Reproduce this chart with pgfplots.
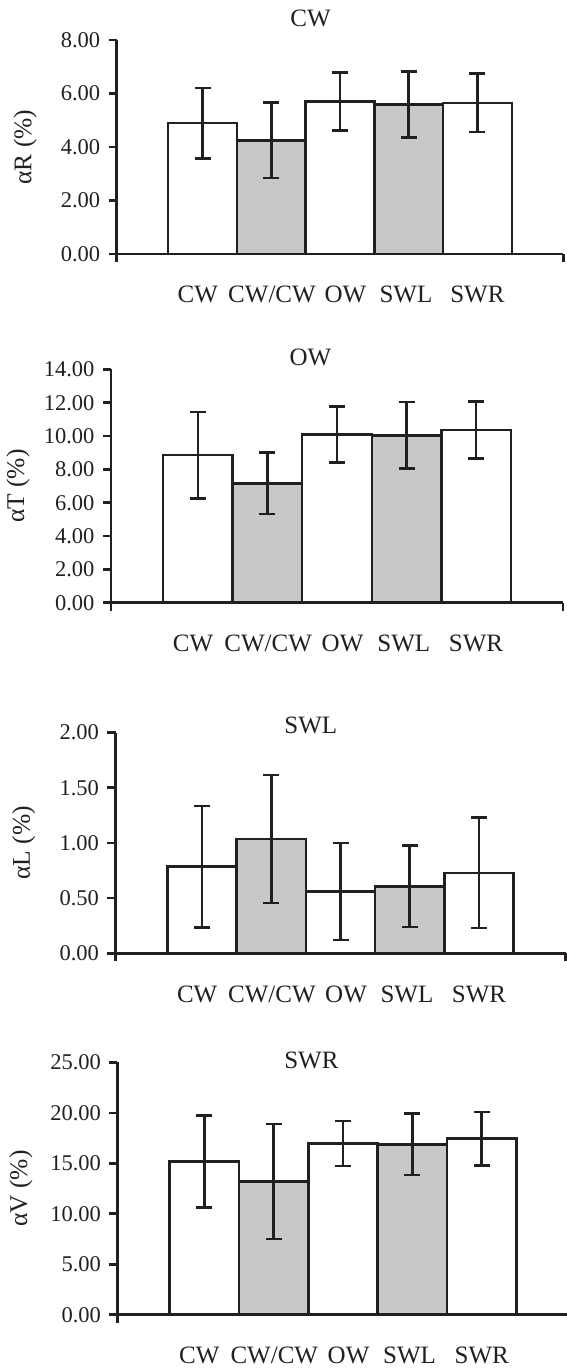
\documentclass[border=0pt]{standalone}
\usepackage{fontspec}
\setmainfont{Liberation Serif}
\usepackage{pgfplots}
\pgfplotsset{compat=1.18}
\definecolor{ink}{RGB}{35,31,32}
\definecolor{barg}{RGB}{199,200,202}
\pgfplotsset{
  panel/.style={
    scale only axis, ybar, bar width=1, bar shift=0pt,
    xmin=-1.25, xmax=5.25, ymin=0,
    axis x line*=bottom, axis y line*=left,
    axis line style={ink, line width=2.6pt},
    tick align=outside, major tick length=8pt,
    tick style={ink, line width=2.6pt},
    xtick={-1.25,5.25}, xticklabels={,},
    extra x ticks={-0.07,1.01,2.08,2.96,4.0},
    extra x tick labels={CW,CW/CW,OW,SWL,SWR},
    extra x tick style={major tick length=0pt, xticklabel style={anchor=base, yshift=-49pt}},
    tick label style={font=\fontsize{22.5}{25}\selectfont, text=ink},
    xticklabel style={font=\fontsize{25}{28}\selectfont},
    yticklabel style={xshift=-5pt, /pgf/number format/.cd, fixed, fixed zerofill, precision=2, assume math mode=true},
    ylabel style={font=\fontsize{25.5}{28}\selectfont, text=ink, anchor=center},
    title style={font=\fontsize{25}{28}\selectfont, text=ink, anchor=center},
  },
  wbar/.style={fill=white, draw=ink, line width=2.5pt,
    error bars/.cd, y dir=both, y explicit,
    error bar style={ink, line width=2.6pt},
    error mark options={ink, line width=2.6pt, mark size=8pt, rotate=90}},
  gbar/.style={fill=barg, draw=ink, line width=2.5pt,
    error bars/.cd, y dir=both, y explicit,
    error bar style={ink, line width=2.6pt},
    error mark options={ink, line width=2.6pt, mark size=8pt, rotate=90}},
}
\begin{document}
\begin{tikzpicture}
\path[use as bounding box] (0,0) rectangle (566pt,1369pt);
% Panel 1
\begin{axis}[panel, at={(116.7pt,1115pt)}, anchor=south west,
  width=446.6pt, height=214pt, ymax=8, ytick={0,2,4,6,8},
  ylabel={αR (\%)}, ylabel style={at={(axis description cs:-0.205,0.5)}},
  title={CW}, title style={at={(axis description cs:0.434,1.075)}}]
\addplot[wbar] coordinates {(0,4.89) +- (0,1.31) (2,5.70) +- (0,1.09) (4,5.65) +- (0,1.09)};
\addplot[gbar] coordinates {(1,4.25) +- (0,1.41) (3,5.59) +- (0,1.23)};
\end{axis}
% Panel 2
\begin{axis}[panel, at={(111pt,766.3pt)}, anchor=south west,
  width=452pt, height=233.3pt, ymax=14, ytick={0,2,4,6,8,10,12,14},
  ylabel={αT (\%)}, ylabel style={at={(axis description cs:-0.206,0.5)}},
  title={OW}, title style={at={(axis description cs:0.441,1.026)}}]
\addplot[wbar] coordinates {(0,8.86) +- (0,2.59) (2,10.10) +- (0,1.68) (4,10.36) +- (0,1.72)};
\addplot[gbar] coordinates {(1,7.16) +- (0,1.84) (3,10.04) +- (0,2.00)};
\end{axis}
% Panel 3
\begin{axis}[panel, at={(115.5pt,415.7pt)}, anchor=south west,
  width=450pt, height=220.7pt, ymax=2, ytick={0,0.5,1,1.5,2},
  ylabel={αL (\%)}, ylabel style={at={(axis description cs:-0.204,0.5)}},
  title={SWL}, title style={at={(axis description cs:0.434,1.004)}}]
\addplot[wbar] coordinates {(0,0.785) +- (0,0.55) (2,0.559) +- (0,0.44) (4,0.728) +- (0,0.50)};
\addplot[gbar] coordinates {(1,1.036) +- (0,0.58) (3,0.607) +- (0,0.37)};
\end{axis}
% Panel 4
\begin{axis}[panel, at={(117.5pt,54.3pt)}, anchor=south west,
  width=451pt, height=252.3pt, ymax=25, ytick={0,5,10,15,20,25},
  ylabel={αV (\%)}, ylabel style={at={(axis description cs:-0.214,0.5)}},
  title={SWR}, title style={at={(axis description cs:0.43,0.983)}}]
\addplot[wbar] coordinates {(0,15.19) +- (0,4.56) (2,16.97) +- (0,2.23) (4,17.44) +- (0,2.64)};
\addplot[gbar] coordinates {(1,13.21) +- (0,5.70) (3,16.88) +- (0,3.04)};
\end{axis}
\end{tikzpicture}
\end{document}
